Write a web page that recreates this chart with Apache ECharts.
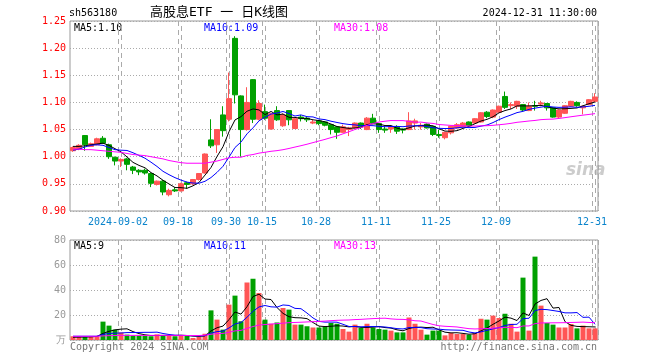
<!DOCTYPE html>
<html><head><meta charset="utf-8">
<script src="https://cdn.jsdelivr.net/npm/echarts@6/dist/echarts.min.js"></script>
<style>html,body{margin:0;padding:0;background:#fff}#c{width:660px;height:360px}</style>
</head><body><div id="c"></div>
<script>
const dates = [
'2024-08-21','2024-08-22','2024-08-23','2024-08-26','2024-08-27','2024-08-28','2024-08-29','2024-08-30',
'2024-09-02','2024-09-03','2024-09-04','2024-09-05','2024-09-06','2024-09-09','2024-09-10','2024-09-11','2024-09-12','2024-09-13',
'2024-09-18','2024-09-19','2024-09-20','2024-09-23','2024-09-24','2024-09-25','2024-09-26','2024-09-27','2024-09-30',
'2024-10-08','2024-10-09','2024-10-10','2024-10-11','2024-10-14','2024-10-15','2024-10-16','2024-10-17','2024-10-18',
'2024-10-21','2024-10-22','2024-10-23','2024-10-24','2024-10-25','2024-10-28','2024-10-29','2024-10-30','2024-10-31',
'2024-11-01','2024-11-04','2024-11-05','2024-11-06','2024-11-07','2024-11-08','2024-11-11','2024-11-12','2024-11-13',
'2024-11-14','2024-11-15','2024-11-18','2024-11-19','2024-11-20','2024-11-21','2024-11-22','2024-11-25','2024-11-26',
'2024-11-27','2024-11-28','2024-11-29','2024-12-02','2024-12-03','2024-12-04','2024-12-05','2024-12-06','2024-12-09',
'2024-12-10','2024-12-11','2024-12-12','2024-12-13','2024-12-16','2024-12-17','2024-12-18','2024-12-19','2024-12-20',
'2024-12-23','2024-12-24','2024-12-25','2024-12-26','2024-12-27','2024-12-30','2024-12-31'];

const opens = [1.011,1.014,1.039,1.019,1.022,1.034,1.022,0.999,0.992,0.996,0.981,0.975,0.975,0.969,0.949,0.955,0.930,0.939,0.937,0.952,0.950,0.958,0.970,1.031,1.022,1.077,1.069,1.218,1.112,1.050,1.142,1.069,1.083,1.051,1.085,1.057,1.085,1.052,1.073,1.071,1.062,1.066,1.064,1.059,1.055,1.045,1.050,1.053,1.062,1.050,1.071,1.061,1.051,1.051,1.055,1.051,1.050,1.062,1.055,1.060,1.056,1.041,1.035,1.044,1.053,1.055,1.064,1.062,1.064,1.082,1.073,1.082,1.111,1.094,1.093,1.096,1.085,1.094,1.097,1.098,1.090,1.073,1.080,1.093,1.100,1.090,1.096,1.102];
const closes = [1.017,1.021,1.022,1.024,1.033,1.025,1.000,0.992,0.995,0.986,0.975,0.972,0.970,0.951,0.955,0.935,0.938,0.937,0.950,0.949,0.958,0.969,1.005,1.020,1.050,1.048,1.107,1.114,1.050,1.100,1.069,1.098,1.071,1.079,1.068,1.077,1.068,1.070,1.070,1.068,1.064,1.061,1.058,1.050,1.045,1.055,1.053,1.062,1.055,1.071,1.062,1.050,1.049,1.055,1.047,1.049,1.066,1.066,1.058,1.053,1.041,1.039,1.045,1.056,1.059,1.062,1.057,1.070,1.081,1.074,1.086,1.093,1.091,1.096,1.102,1.086,1.093,1.093,1.099,1.090,1.073,1.086,1.094,1.102,1.094,1.093,1.105,1.110];
const lows = [1.009,1.012,1.011,1.018,1.021,1.024,0.996,0.984,0.981,0.975,0.968,0.966,0.967,0.944,0.947,0.929,0.927,0.935,0.936,0.941,0.948,0.956,0.969,1.016,1.007,1.037,1.065,1.098,1.000,1.048,1.062,1.067,1.068,1.050,1.066,1.055,1.058,1.051,1.065,1.064,1.060,1.058,1.056,1.041,1.033,1.044,1.038,1.052,1.051,1.049,1.060,1.044,1.044,1.044,1.042,1.043,1.049,1.050,1.050,1.052,1.038,1.035,1.032,1.041,1.052,1.054,1.056,1.061,1.063,1.071,1.071,1.081,1.088,1.088,1.088,1.084,1.084,1.085,1.093,1.085,1.072,1.070,1.079,1.092,1.092,1.078,1.095,1.101];
const highs = [1.019,1.023,1.040,1.026,1.035,1.038,1.024,1.000,0.997,0.998,0.983,0.977,0.978,0.971,0.956,0.957,0.941,0.944,0.952,0.954,0.959,0.970,1.006,1.069,1.051,1.093,1.155,1.222,1.113,1.128,1.143,1.104,1.096,1.081,1.093,1.080,1.086,1.071,1.077,1.073,1.068,1.068,1.065,1.060,1.056,1.059,1.055,1.063,1.063,1.073,1.079,1.062,1.056,1.056,1.058,1.052,1.082,1.070,1.062,1.061,1.057,1.050,1.046,1.057,1.062,1.064,1.065,1.071,1.082,1.084,1.087,1.094,1.120,1.100,1.103,1.097,1.100,1.103,1.103,1.099,1.091,1.087,1.095,1.103,1.102,1.094,1.106,1.117];
const volumes = [3,3,2.5,3,3,14.7,11.5,8.3,6,4.3,3.5,3.5,3.5,3,4.5,4,3.5,3,4,3.5,1.6,2.4,5,23.7,16.3,8.3,28.3,35.5,15,46,49,37.6,16.3,13,14,25.6,24.3,12.3,12.3,11,10,10,10.4,13.6,13,8.8,6.7,12.3,9.6,13,10,8.8,8.3,7.5,6.1,6.1,18,13,8.3,4.3,7.5,7.5,3.7,5.6,4.8,4.8,4.3,5.6,17,16.3,19.5,17.6,21,13,6.7,49.9,7.5,66.7,27.5,13.6,12.3,10,10,12.8,9.3,11.5,9.3,9.3];

// moving-average values for the first days, whose windows start before the chart
const ma5Head = [1.019,1.019,1.020,1.022];
const ma10Head = [1.012,1.014,1.018,1.021,1.022,1.021,1.017,1.013,1.012];
const ma30Head = [1.014,1.014,1.013,1.013,1.012,1.011,1.010,1.009,1.008,1.006,1.004,1.003,1.002,1.000,0.998,0.996,0.993,0.991,0.989,0.988,0.988,0.988,0.988,0.990,0.992,0.995,0.998,0.999,0.999];
const vma5Head = [2.2,2.3,2.4,2.5];
const vma10Head = [3,3,3,3,3,4.5,5.2,5.5,5.6];
const vma30Head = [3.0,3.0,3.0,3.0,3.0,3.3,3.5,3.6,3.7,3.7,3.7,3.7,3.7,3.7,3.7,3.7,3.7,3.7,3.7,3.6,3.6,3.6,3.9,4.6,5.1,5.3,6.2,7.3,7.7];

const labelIdx = [8,18,26,32,41,51,61,71,87];
const priceTicks = {min:0.90, max:1.25, step:0.05};
const volTicks = {min:0, max:80, step:20};

const RED = '#ff5555', GREEN = '#00a000';
const MONO = '"DejaVu Sans Mono", monospace';
const PLOT = {left: 70, width: 528};
const PANES = [{top: 21, height: 190}, {top: 240, height: 100}];

function ma(arr, n, head) {
  return arr.map((_, i) => {
    if (i < n - 1) return head[i];
    let t = 0;
    for (let j = i - n + 1; j <= i; j++) t += arr[j];
    return +(t / n).toFixed(4);
  });
}
const candle = dates.map((d, i) => [opens[i], closes[i], lows[i], highs[i]]);
const volData = volumes.map((v, i) => ({value: v, itemStyle: {color: closes[i] >= opens[i] ? RED : GREEN}}));
const showIdx = (i) => labelIdx.indexOf(i) >= 0;

const chart = echarts.init(document.getElementById('c'), null, {renderer: 'canvas'});
const hLine = {show: true, lineStyle: {color: '#aaa', type: [1, 2], width: 1}};
const vLine = {show: true, interval: (i) => showIdx(i), lineStyle: {color: '#aaa', type: [5, 4], width: 1}};
const dateMarks = {
  symbol: ['none', 'none'], silent: true, animation: false, label: {show: false},
  emphasis: {disabled: true},
  lineStyle: {color: '#aaa', type: [5, 4], width: 1},
  data: labelIdx.map((i) => ({xAxis: dates[i]}))
};
const txt = (text, x, y, fill, size, align) => ({
  type: 'text', x: x, y: y, silent: true,
  style: {text: text, fill: fill, font: (size || 10) + 'px ' + MONO, textAlign: align || 'left', textVerticalAlign: 'middle'}
});

// dashed date gridlines at the left edge of each labelled day's band
const band = PLOT.width / dates.length;
const dashes = [];
PANES.forEach((p) => {
  labelIdx.forEach((i) => {
    const x = Math.round(PLOT.left + i * band);
    for (let yy = p.top; yy < p.top + p.height; yy += 9) {
      dashes.push({type: 'rect', silent: true,
        shape: {x: x, y: yy, width: 1, height: Math.min(5, p.top + p.height - yy)},
        style: {fill: '#aaa'}});
    }
  });
});

const graphics = dashes.concat([
  txt('sh563180', 69, 13, '#000', 10),
  {type: 'text', x: 150, y: 13, silent: true,
   style: {text: '高股息ETF 一 日K线图', fill: '#000', font: '13px "DejaVu Sans Mono", "Noto Sans CJK SC"', textVerticalAlign: 'middle'}},
  txt('2024-12-31 11:30:00', 597, 13, '#000', 10, 'right'),
  txt('MA5:1.10', 74, 28, '#000', 10),
  txt('MA10:1.09', 204, 28, '#0000ff', 10),
  txt('MA30:1.08', 334, 28, '#ff00ff', 10),
  txt('MA5:9', 74, 246, '#000', 10),
  txt('MA10:11', 204, 246, '#0000ff', 10),
  txt('MA30:13', 334, 246, '#ff00ff', 10),
  txt('Copyright 2024 SINA.COM', 70, 347, '#777', 10),
  txt('http://finance.sina.com.cn', 597, 347, '#777', 10, 'right'),
  {type: 'text', x: 566, y: 171, silent: true,
   style: {text: 'sina', fill: 'rgba(170,170,170,0.6)', font: 'italic bold 17px "DejaVu Sans"', textVerticalAlign: 'middle'}}
]);

chart.setOption({
  animation: false,
  backgroundColor: '#fff',
  grid: PANES.map((p) => ({left: PLOT.left, width: PLOT.width, top: p.top, height: p.height,
    show: true, borderColor: '#999', borderWidth: 1, backgroundColor: 'transparent'})),
  xAxis: [
    {type: 'category', data: dates, gridIndex: 0, boundaryGap: true,
     axisLine: {show: false}, axisTick: {show: false, interval: (i) => showIdx(i)},
     axisLabel: {interval: (i) => showIdx(i), formatter: (v, i) => (i === 8 ? v : v.slice(5)),
       color: '#0a84cc', fontFamily: MONO, fontSize: 10, margin: 6, padding: [0, 6, 0, 0]},
     splitLine: vLine},
    {type: 'category', data: dates, gridIndex: 1, boundaryGap: true,
     axisLine: {show: false}, axisTick: {show: false, interval: (i) => showIdx(i)},
     axisLabel: {show: false, interval: (i) => showIdx(i)},
     splitLine: vLine}
  ],
  yAxis: [
    {type: 'value', gridIndex: 0, min: priceTicks.min, max: priceTicks.max, interval: priceTicks.step,
     axisLine: {show: false}, axisTick: {show: false},
     axisLabel: {formatter: (v) => v.toFixed(2), color: '#ff0000', fontFamily: MONO, fontSize: 10, margin: 4},
     splitLine: hLine},
    {type: 'value', gridIndex: 1, min: volTicks.min, max: volTicks.max, interval: volTicks.step,
     axisLine: {show: false}, axisTick: {show: false},
     axisLabel: {formatter: (v) => (v === 0 ? '万' : String(v)), color: '#999', fontFamily: MONO, fontSize: 10, margin: 4},
     splitLine: hLine}
  ],
  series: [
    {type: 'candlestick', xAxisIndex: 0, yAxisIndex: 0, data: candle, barWidth: 5, z: 5,
     itemStyle: {color: RED, color0: GREEN, borderColor: RED, borderColor0: GREEN, borderWidth: 1},
     markLine: dateMarks},
    {type: 'line', xAxisIndex: 0, yAxisIndex: 0, data: ma(closes, 5, ma5Head), showSymbol: false, z: 6, lineStyle: {color: '#000', width: 1}},
    {type: 'line', xAxisIndex: 0, yAxisIndex: 0, data: ma(closes, 10, ma10Head), showSymbol: false, z: 6, lineStyle: {color: '#0000ff', width: 1}},
    {type: 'line', xAxisIndex: 0, yAxisIndex: 0, data: ma(closes, 30, ma30Head), showSymbol: false, z: 6, lineStyle: {color: '#ff00ff', width: 1}},
    {type: 'bar', xAxisIndex: 1, yAxisIndex: 1, data: volData, barWidth: 5, z: 5, markLine: dateMarks},
    {type: 'line', xAxisIndex: 1, yAxisIndex: 1, data: ma(volumes, 5, vma5Head), showSymbol: false, z: 6, lineStyle: {color: '#000', width: 1}},
    {type: 'line', xAxisIndex: 1, yAxisIndex: 1, data: ma(volumes, 10, vma10Head), showSymbol: false, z: 6, lineStyle: {color: '#0000ff', width: 1}},
    {type: 'line', xAxisIndex: 1, yAxisIndex: 1, data: ma(volumes, 30, vma30Head), showSymbol: false, z: 6, lineStyle: {color: '#ff00ff', width: 1}}
  ],
  graphic: {elements: graphics}
});
</script></body></html>
